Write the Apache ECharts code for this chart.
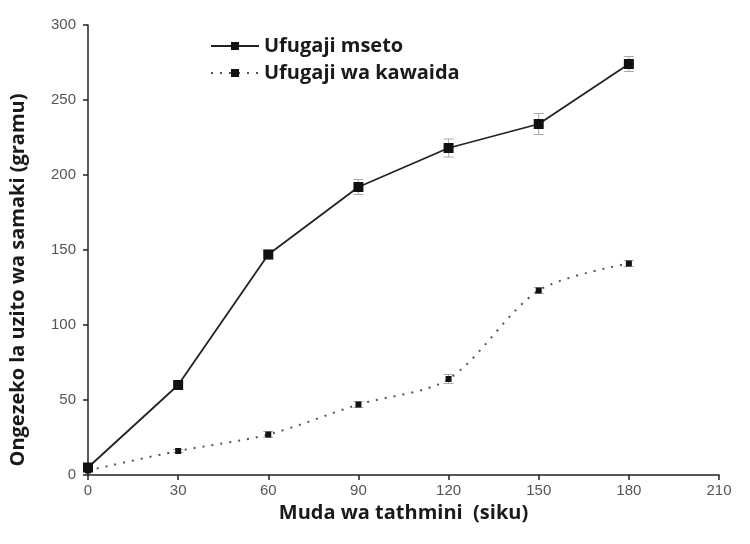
<!DOCTYPE html>
<html>
<head>
<meta charset="utf-8">
<script src="https://cdn.jsdelivr.net/npm/echarts@6/dist/echarts.min.js"></script>
<style>
  html, body { margin: 0; padding: 0; background: #fff; }
  #chart { width: 750px; height: 544px; }
</style>
</head>
<body>
<div id="chart"></div>
<script>
var days = [0, 30, 60, 90, 120, 150, 180]
var msetoValues = [5, 60, 147, 192, 218, 234, 274]
var msetoErrors = [0, 3, 3, 5, 6, 7, 5]
var kawaidaValues = [3, 16, 27, 47, 64, 123, 141]
var kawaidaErrors = [0, 1, 2, 2, 3, 2, 2]

function pairs (xs, ys) {
  return xs.map(function (x, i) { return [x, ys[i]] })
}

function errorData (xs, ys, es) {
  return xs.map(function (x, i) { return [x, ys[i] - es[i], ys[i] + es[i]] })
}

function renderError (params, api) {
  var x = api.value(0)
  var lo = api.coord([x, api.value(1)])
  var hi = api.coord([x, api.value(2)])
  var w = 5
  var style = { stroke: '#aaa', lineWidth: 1 }
  return {
    type: 'group',
    children: [
      { type: 'line', shape: { x1: lo[0], y1: lo[1], x2: hi[0], y2: hi[1] }, style: style },
      { type: 'line', shape: { x1: lo[0] - w, y1: lo[1], x2: lo[0] + w, y2: lo[1] }, style: style },
      { type: 'line', shape: { x1: hi[0] - w, y1: hi[1], x2: hi[0] + w, y2: hi[1] }, style: style }
    ]
  }
}

var titleFont = { fontFamily: 'Open Sans', fontWeight: 'bold', fontSize: 20, color: '#1a1a1a' }

var chart = echarts.init(document.getElementById('chart'))
chart.setOption({
  animation: false,
  backgroundColor: '#fff',
  grid: { left: 88, right: 31, top: 25, bottom: 69, outerBoundsMode: 'none', containLabel: false },
  legend: {
    orient: 'vertical',
    left: 205,
    top: 31,
    itemWidth: 48,
    itemHeight: 10,
    itemGap: 7,
    data: ['Ufugaji mseto', 'Ufugaji wa kawaida'],
    textStyle: titleFont
  },
  xAxis: {
    type: 'value',
    min: 0,
    max: 210,
    interval: 30,
    name: 'Muda wa tathmini  (siku)',
    nameLocation: 'middle',
    nameGap: 21,
    nameTextStyle: titleFont,
    axisLine: { lineStyle: { color: '#222', width: 1.5 } },
    axisTick: { lineStyle: { color: '#222', width: 1.5 }, length: 5 },
    axisLabel: { fontFamily: 'Liberation Sans', fontSize: 15, color: '#555', margin: 8 },
    splitLine: { show: false }
  },
  yAxis: {
    type: 'value',
    min: 0,
    max: 300,
    interval: 50,
    name: 'Ongezeko la uzito wa samaki (gramu)',
    nameLocation: 'middle',
    nameGap: 60,
    nameTextStyle: Object.assign({ padding: [0, 60, 0, 0] }, titleFont),
    axisLine: { show: true, lineStyle: { color: '#222', width: 1.5 } },
    axisTick: { show: true, lineStyle: { color: '#222', width: 1.5 }, length: 5 },
    axisLabel: { fontFamily: 'Liberation Sans', fontSize: 15, color: '#555', margin: 12 },
    splitLine: { show: false }
  },
  series: [
    {
      name: 'Ufugaji mseto',
      type: 'line',
      data: pairs(days, msetoValues),
      symbol: 'rect',
      symbolSize: 10,
      itemStyle: { color: '#111' },
      lineStyle: { color: '#222', width: 1.8 },
      z: 3
    },
    {
      name: 'Ufugaji wa kawaida',
      type: 'line',
      data: pairs(days, kawaidaValues),
      smooth: 0.3,
      symbol: 'rect',
      symbolSize: 6,
      itemStyle: { color: '#111' },
      lineStyle: { color: '#555', width: 2, type: [2, 7] },
      z: 3
    },
    {
      type: 'custom',
      data: errorData(days, msetoValues, msetoErrors),
      renderItem: renderError,
      z: 2,
      silent: true
    },
    {
      type: 'custom',
      data: errorData(days, kawaidaValues, kawaidaErrors),
      renderItem: renderError,
      z: 2,
      silent: true
    }
  ]
})
</script>
</body>
</html>
